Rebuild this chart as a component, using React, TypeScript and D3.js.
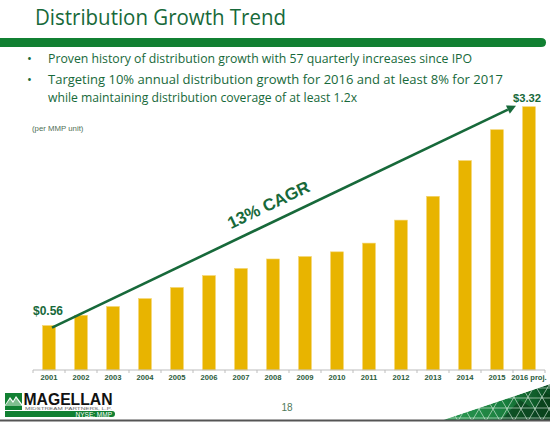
import React from "react";
import * as d3 from "d3";

const categories = ["2001","2002","2003","2004","2005","2006","2007","2008","2009","2010","2011","2012","2013","2014","2015","2016 proj."];
const values = [0.56,0.69,0.80,0.90,1.04,1.19,1.28,1.40,1.43,1.49,1.60,1.89,2.19,2.64,3.03,3.32];
const titleText = "Distribution Growth Trend";
const bullets = [
  "Proven history of distribution growth with 57 quarterly increases since IPO",
  "Targeting 10% annual distribution growth for 2016 and at least 8% for 2017",
  "while maintaining distribution coverage of at least 1.2x",
];
const cagrLabel = "13% CAGR";
const unitLabel = "(per MMP unit)";

const W = 550, H = 422;
const DARK = "#17693a";
const BAND = "#118032";
const GOLD = "#E8B400";

export default function App() {
  const x = d3.scaleBand<string>().domain(categories).range([33, 545]).paddingInner(0.6).paddingOuter(0.3);
  const y = d3.scaleLinear().domain([0, 3.5]).range([370, 370 - 3.5 * 79.3]);
  const step = x.step();
  const bw = x.bandwidth();
  const cx = (c: string) => (x(c) as number) + bw / 2;

  const first = categories[0], last = categories[categories.length - 1];
  const x1 = cx(first) + 3, y1 = y(values[0]) + 2;
  const x2 = cx(last) - 13, y2 = y(values[values.length - 1]) - 1;
  const ang = Math.atan2(y2 - y1, x2 - x1);
  const angDeg = (ang * 180) / Math.PI;
  const ah = 9, aw = 4.5;
  const bx = x2 - ah * Math.cos(ang), by = y2 - ah * Math.sin(ang);
  const px = -Math.sin(ang), py = Math.cos(ang);
  const head = `M${x2},${y2} L${bx + px * aw},${by + py * aw} L${bx - px * aw},${by - py * aw} Z`;

  const boundaries = d3.range(categories.length + 1).map((i) => 33 + i * step);

  const triPts = "440,421 550,384 550,421";
  const patLines: string[] = [];
  for (let i = -10; i < 14; i++) {
    const a = 430 + i * 14;
    patLines.push(`M${a},421 L${a + 24},380`);
    patLines.push(`M${a},421 L${a - 24},380`);
  }
  for (let j = 0; j < 4; j++) {
    const yy = 388 + j * 10;
    patLines.push(`M430,${yy} L560,${yy}`);
  }

  return (
    <svg width={W} height={H} viewBox={`0 0 ${W} ${H}`} style={{ position: "absolute", left: 0, top: 0, background: "#fff" }}>
      <defs>
        <clipPath id="tri"><polygon points={triPts} /></clipPath>
        <linearGradient id="tg" x1="0" x2="1" y1="0" y2="0">
          <stop offset="0" stopColor="#2f9e57" />
          <stop offset="0.6" stopColor="#1d7f40" />
          <stop offset="1" stopColor="#0d4d22" />
        </linearGradient>
      </defs>
      <text x={35} y={25} fontFamily="Open Sans, sans-serif" fontSize={22.5} fill={DARK} textLength={251} lengthAdjust="spacingAndGlyphs">{titleText}</text>
      <path d="M0,38 L541,38 Q546,38 546,42.5 Q546,47 541,47 L0,47 Z" fill={BAND} />
      <g fontFamily="Open Sans, sans-serif" fontSize={13} fill={DARK}>
        <text x={27} y={63}>•</text>
        <text x={48} y={63} textLength={424} lengthAdjust="spacingAndGlyphs">{bullets[0]}</text>
        <text x={27} y={84}>•</text>
        <text x={48} y={84} textLength={455} lengthAdjust="spacingAndGlyphs">{bullets[1]}</text>
        <text x={48} y={102} textLength={309} lengthAdjust="spacingAndGlyphs">{bullets[2]}</text>
      </g>
      <text x={32} y={131} fontFamily="Liberation Sans, Arial, sans-serif" fontSize={7.8} fill="#4f6f55">{unitLabel}</text>
      {categories.map((c, i) => (
        <rect key={c} x={x(c)} y={y(values[i])} width={bw} height={370 - y(values[i])} fill={GOLD} stroke="#f3d36a" strokeWidth={0.6} />
      ))}
      <line x1={33} x2={545} y1={370} y2={370} stroke="#bdbdbd" strokeWidth={1} />
      {boundaries.map((b, i) => (
        <line key={i} x1={b} x2={b} y1={370} y2={373} stroke="#bdbdbd" strokeWidth={1} />
      ))}
      <g fontFamily="Liberation Sans, Arial, sans-serif" fontSize={7.6} fontWeight="bold" fill="#2b5c3c" textAnchor="middle">
        {categories.map((c) => (
          <text key={c} x={cx(c)} y={380}>{c}</text>
        ))}
      </g>
      <text x={33} y={315} fontFamily="Liberation Sans, Arial, sans-serif" fontSize={12} fontWeight="bold" fill={DARK}>${values[0].toFixed(2)}</text>
      <text x={527} y={102} textAnchor="middle" fontFamily="Liberation Sans, Arial, sans-serif" fontSize={11.2} fontWeight="bold" fill={DARK}>${values[values.length - 1].toFixed(2)}</text>
      <line x1={x1} y1={y1} x2={bx} y2={by} stroke={DARK} strokeWidth={2.6} />
      <path d={head} fill={DARK} />
      <text transform={`translate(271,210) rotate(${angDeg})`} textAnchor="middle" fontFamily="Liberation Sans, Arial, sans-serif" fontSize={17} fontWeight="bold" fill={DARK}>{cagrLabel}</text>
      <text x={287} y={411} textAnchor="middle" fontFamily="Liberation Sans, Arial, sans-serif" fontSize={10} fill="#4f7a5a">18</text>
      <g>
        <rect x={5} y={393} width={17} height={17} fill={BAND} />
        <path d="M5,405 L10,397 L13,401 L16,396 L22,404 L22,406 L5,406 Z" fill="#fff" />
        <path d="M5,406 L10,399 L13,403 L16,398 L22,406 Z" fill="#7fbf8f" />
        <text x={23.5} y={405} fontFamily="Liberation Sans, Arial, sans-serif" fontSize={16} fontWeight="bold" fill="#111" textLength={89} lengthAdjust="spacingAndGlyphs">MAGELLAN</text>
        <text x={25} y={409.5} fontFamily="Liberation Sans, Arial, sans-serif" fontSize={3.6} fill="#666" textLength={87} lengthAdjust="spacingAndGlyphs">MIDSTREAM PARTNERS, L.P.</text>
        <path d="M5,411 L112,411 Q115,411 115,414 Q115,417 112,417 L5,417 Z" fill={BAND} />
        <text x={112} y={416.5} textAnchor="end" fontFamily="Liberation Sans, Arial, sans-serif" fontSize={6.5} fill="#fff">NYSE: MMP</text>
      </g>
      <g clipPath="url(#tri)">
        <polygon points={triPts} fill="url(#tg)" />
        <path d="M500,421 L520,400 L535,410 L545,392 L550,395 L550,421 Z" fill="#0b3b1a" opacity={0.6} />
        {patLines.map((d, i) => (
          <path key={i} d={d} stroke="#e8f5ec" strokeWidth={0.7} opacity={0.85} />
        ))}
      </g>
      <line x1={0} x2={550} y1={420.5} y2={420.5} stroke="#555" strokeWidth={2} />
    </svg>
  );
}
